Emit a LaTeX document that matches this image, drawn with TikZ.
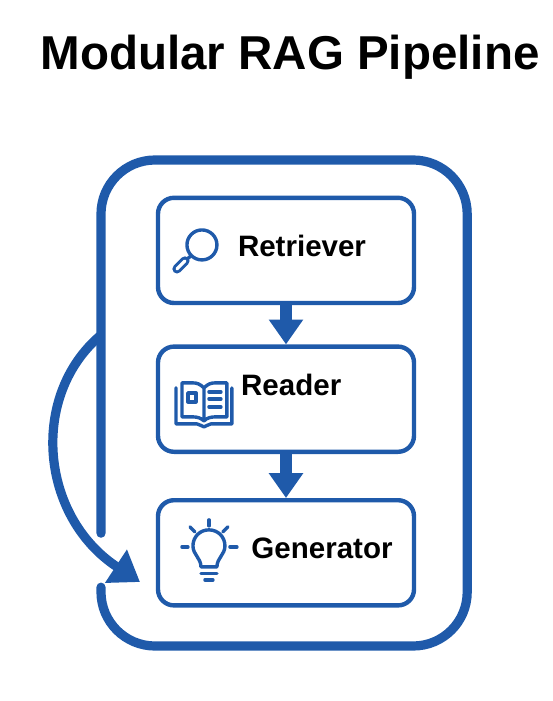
\documentclass[tikz,border=0pt]{standalone}
\usepackage{fontspec}
\setmainfont{Liberation Sans}
\usetikzlibrary{arrows.meta,positioning}
\definecolor{plava}{RGB}{31,90,170}
\tikzset{
  kutija/.style={draw=plava,line width=0.11cm,rounded corners=0.4cm,minimum width=6.4cm,minimum height=2.63cm},
  okvir/.style={draw=plava,line width=0.23cm,line cap=round,rounded corners=1.35cm},
  natpis/.style={font=\fontsize{21}{25}\selectfont\bfseries,inner sep=0pt},
  str/.style={draw=plava,line width=0.29cm,-{Triangle[length=0.62cm,width=0.82cm]},plava},
  petlja/.style={draw=plava,line width=0.23cm,-{Triangle[length=0.72cm,width=0.95cm]},plava},
  ikona/.style={draw=plava,line width=0.085cm,line cap=round,line join=round},
}
\begin{document}
\begin{tikzpicture}
  \useasboundingbox (0,0) rectangle (13.8,-17.525);

  % ---------- NASLOV ----------
  \node[font=\fontsize{33.8}{40}\selectfont\bfseries,inner sep=0pt] (naslov) at (7.25,-1.42) {Modular RAG Pipeline};

  % ---------- OKVIR ----------
  \coordinate (okvirA) at (2.525,-13.33);
  \coordinate (okvirB) at (2.525,-14.68);
  \draw[okvir] (okvirA) -- (2.525,-4.0) -- (11.68,-4.0) -- (11.68,-16.15) -- (2.525,-16.15) -- (okvirB);

  % ---------- KUTIJE ----------
  \node[kutija] (retriever) at (7.15,-6.26) {};
  \node[kutija] (reader) at (7.15,-9.98) {};
  \node[kutija] (generator) at (7.15,-13.82) {};

  \node[natpis] (tRetriever) at (7.55,-6.15) {Retriever};
  \node[natpis] (tReader) at (7.28,-9.62) {Reader};
  \node[natpis] (tGenerator) at (8.05,-13.72) {Generator};

  \draw[str] (retriever.south) -- (reader.north);
  \draw[str] (reader.south) -- (generator.north);

  % ---------- POVRATNA STRELICA ----------
  \coordinate (petljaA) at (2.525,-8.375);
  \coordinate (petljaB) at (3.5,-14.55);
  \draw[petlja] (petljaA) .. controls (0.74,-9.875) and (0.99,-12.9) .. (petljaB);

  % ---------- IKONE ----------
  \begin{scope}[x=0.025cm,y=-0.025cm]
    % lupa
    \draw[ikona] (202,245) circle (15);
    \draw[ikona] (191,256) -- (186,260);
    \draw[plava,line width=0.23cm,line cap=round] (185,261) -- (177,269);
    \draw[white,line width=0.08cm,line cap=round] (185,261) -- (177,269);
    % knjiga
    \draw[ikona] (204,388) .. controls (200,384) and (197,383) .. (193,383) -- (182,383) -- (182,417)
       -- (193,417) .. controls (197,417) and (201,418) .. (204,421)
       .. controls (207,418) and (211,417) .. (215,417) -- (227,417) -- (227,383) -- (215,383)
       .. controls (211,383) and (208,384) .. (204,388) -- (204,421);
    \draw[ikona] (176,388) -- (176,424) -- (197,424) .. controls (200,424) and (202,427) .. (204,427)
       .. controls (206,427) and (208,424) .. (211,424) -- (232,424) -- (232,388);
    \draw[ikona] (188,393) rectangle (196,402);
    \foreach \y in {392,399,407} \draw[ikona] (209,\y) -- (221,\y);
    % sijalica
    \draw[ikona] (201,567) .. controls (201,558) and (193,555) .. (193,546)
       .. controls (193,537) and (200,530) .. (209,530)
       .. controls (218,530) and (225,537) .. (225,546)
       .. controls (225,555) and (217,558) .. (217,567) -- cycle;
    \draw[ikona] (209,520) -- (209,526);
    \draw[ikona] (190,527) -- (195,532);
    \draw[ikona] (228,527) -- (223,532);
    \draw[ikona] (182,547) -- (188,547);
    \draw[ikona] (230,547) -- (237,547);
    \draw[ikona] (201,573.5) -- (217,573.5);
    \draw[ikona] (205,580) -- (213,580);
  \end{scope}
\end{tikzpicture}
\end{document}
